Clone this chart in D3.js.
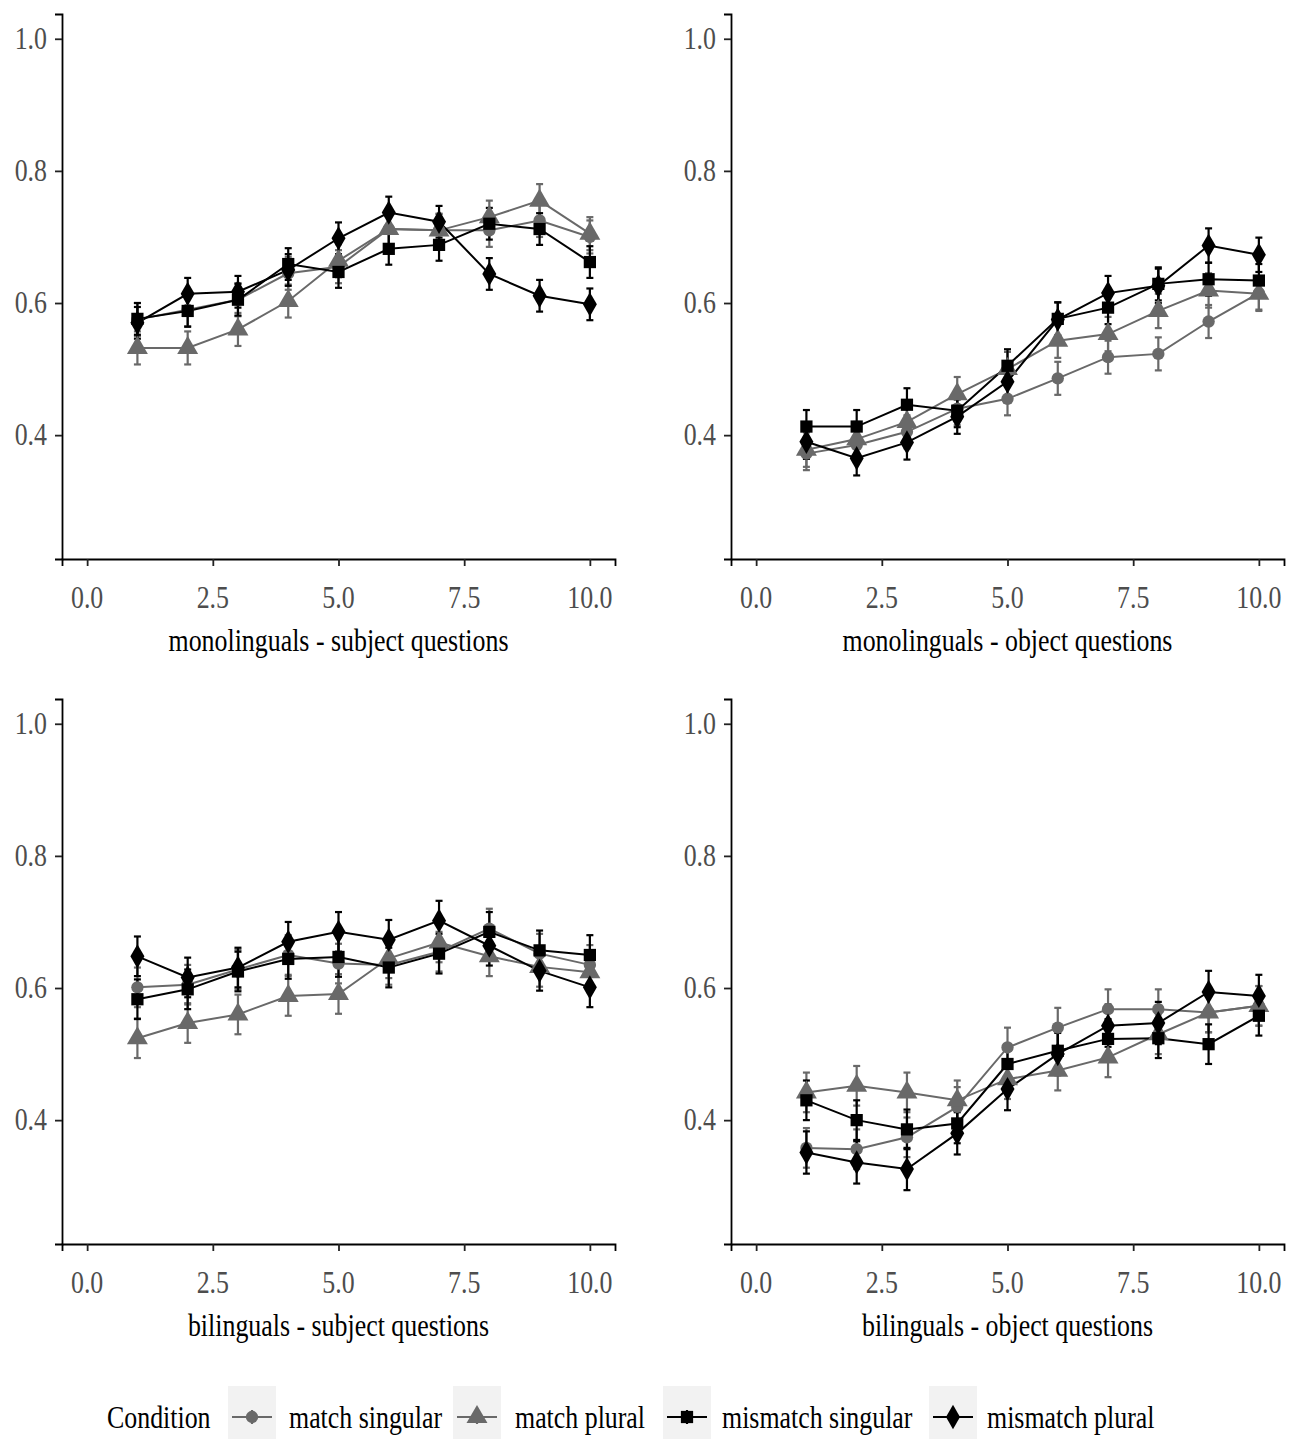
<!DOCTYPE html>
<html><head><meta charset="utf-8">
<script src="https://cdn.jsdelivr.net/npm/d3@7"></script>
<style>body{margin:0;background:#fff}</style></head>
<body><svg id="c" width="1302" height="1439"></svg>
<script>
const blocks = [1,2,3,4,5,6,7,8,9,10];
const xTicks = [0, 2.5, 5, 7.5, 10];
const yTicks = [0.4, 0.6, 0.8, 1.0];
const conditions = ["match singular","match plural","mismatch singular","mismatch plural"];
const panelTitles = ["monolinguals - subject questions","monolinguals - object questions","bilinguals - subject questions","bilinguals - object questions"];

// monolinguals - subject questions
const monoSubjMatchSg   = [0.575,0.590,0.605,0.645,0.655,0.712,0.710,0.710,0.725,0.700];
const monoSubjMatchPl   = [0.532,0.532,0.560,0.603,0.664,0.712,0.710,0.730,0.755,0.705];
const monoSubjMismSg    = [0.576,0.588,0.605,0.659,0.647,0.682,0.688,0.720,0.712,0.662];
const monoSubjMismPl    = [0.570,0.614,0.617,0.650,0.698,0.737,0.723,0.644,0.611,0.598];
// monolinguals - object questions
const monoObjMatchSg    = [0.372,0.385,0.405,0.440,0.455,0.486,0.518,0.523,0.572,0.615];
const monoObjMatchPl    = [0.378,0.394,0.420,0.462,0.500,0.543,0.553,0.588,0.619,0.614];
const monoObjMismSg     = [0.413,0.413,0.446,0.437,0.505,0.576,0.593,0.629,0.636,0.634];
const monoObjMismPl     = [0.390,0.365,0.389,0.428,0.481,0.575,0.615,0.626,0.687,0.673];
// bilinguals - subject questions
const biSubjMatchSg     = [0.601,0.605,0.628,0.650,0.637,0.635,0.655,0.690,0.652,0.635];
const biSubjMatchPl     = [0.524,0.547,0.560,0.588,0.591,0.645,0.669,0.648,0.632,0.624];
const biSubjMismSg      = [0.583,0.598,0.625,0.644,0.647,0.631,0.652,0.685,0.657,0.650];
const biSubjMismPl      = [0.648,0.616,0.631,0.670,0.685,0.673,0.702,0.664,0.626,0.601];
// bilinguals - object questions
const biObjMatchSg      = [0.358,0.356,0.374,0.420,0.510,0.540,0.568,0.568,0.563,0.573];
const biObjMatchPl      = [0.442,0.452,0.442,0.430,0.462,0.475,0.495,0.530,0.563,0.573];
const biObjMismSg       = [0.430,0.400,0.386,0.395,0.485,0.505,0.523,0.524,0.515,0.558];
const biObjMismPl       = [0.351,0.336,0.326,0.380,0.447,0.500,0.543,0.547,0.594,0.588];

// standard errors (per panel, per condition)
const seMonoSubj = [0.025,0.025,0.024,0.024];
const seMonoObj  = [0.025,0.026,0.025,0.026];
const seBiSubj   = [0.030,0.030,0.030,0.030];
const seBiObj    = [0.030,0.030,0.030,0.032];

const panels = [
  {title: panelTitles[0], series: [monoSubjMatchSg, monoSubjMatchPl, monoSubjMismSg, monoSubjMismPl], se: seMonoSubj, x0: 62, x1: 615, y0: 14, y1: 559},
  {title: panelTitles[1], series: [monoObjMatchSg, monoObjMatchPl, monoObjMismSg, monoObjMismPl], se: seMonoObj, x0: 731, x1: 1284, y0: 14, y1: 559},
  {title: panelTitles[2], series: [biSubjMatchSg, biSubjMatchPl, biSubjMismSg, biSubjMismPl], se: seBiSubj, x0: 62, x1: 615, y0: 699, y1: 1244},
  {title: panelTitles[3], series: [biObjMatchSg, biObjMatchPl, biObjMismSg, biObjMismPl], se: seBiObj, x0: 731, x1: 1284, y0: 699, y1: 1244}
];

const colors = ["#696969","#696969","#000000","#000000"];
const shapes = [d3.symbolCircle, d3.symbolTriangle, d3.symbolSquare, d3.symbolDiamond];
const sizes = [120, 190, 150, 170];
const FONT = "'Liberation Serif','Times New Roman',serif";
const SX = 0.835;

const svg = d3.select("#c");
function txt(parent, x, y, s, opts) {
  opts = opts || {};
  const g = parent.append("g").attr("transform", `translate(${x},${y}) scale(${SX},1)`);
  g.append("text").text(s)
    .attr("font-family", FONT)
    .attr("font-size", opts.size || 31)
    .attr("fill", opts.fill || "#000")
    .attr("text-anchor", opts.anchor || "start")
    .attr("dominant-baseline", "central");
  return g;
}

panels.forEach(p => {
  const x = d3.scaleLinear().domain([-0.5, 10.5]).range([p.x0, p.x1]);
  const y = d3.scaleLinear().domain([0.2125, 1.0375]).range([p.y1, p.y0]);
  const g = svg.append("g");

  // axes
  const xa = g.append("g").attr("transform", `translate(0,${p.y1})`)
    .call(d3.axisBottom(x).tickValues(xTicks).tickSize(7).tickFormat(""));
  const ya = g.append("g").attr("transform", `translate(${p.x0},0)`)
    .call(d3.axisLeft(y).tickValues(yTicks).tickSize(7).tickFormat(""));
  [xa, ya].forEach(a => {
    a.select(".domain").attr("stroke", "#000").attr("stroke-width", 1.8);
    a.selectAll(".tick line").attr("stroke", "#222").attr("stroke-width", 1.8);
  });
  xTicks.forEach(t => txt(g, x(t), p.y1 + 39, d3.format(".1f")(t), {anchor: "middle", fill: "#4d4d4d"}));
  yTicks.forEach(t => txt(g, p.x0 - 15, y(t), d3.format(".1f")(t), {anchor: "end", fill: "#4d4d4d"}));
  txt(g, (p.x0 + p.x1) / 2, p.y1 + 82, p.title, {anchor: "middle"});

  // error bars
  p.series.forEach((vals, i) => {
    const eb = g.append("g");
    vals.forEach((v, j) => {
      const cx = x(blocks[j]);
      const lo = y(v - p.se[i]), hi = y(v + p.se[i]);
      eb.append("line").attr("x1", cx).attr("x2", cx).attr("y1", lo).attr("y2", hi)
        .attr("stroke", colors[i]).attr("stroke-width", 2.2);
      [lo, hi].forEach(yy => eb.append("line").attr("x1", cx - 3.5).attr("x2", cx + 3.5).attr("y1", yy).attr("y2", yy)
        .attr("stroke", colors[i]).attr("stroke-width", 2.2));
    });
  });
  // lines
  const line = d3.line().x((d, j) => x(blocks[j])).y(d => y(d));
  p.series.forEach((vals, i) => {
    g.append("path").datum(vals).attr("d", line).attr("fill", "none")
      .attr("stroke", colors[i]).attr("stroke-width", 2);
  });
  // points
  p.series.forEach((vals, i) => {
    g.selectAll(null).data(vals).enter().append("path")
      .attr("transform", (d, j) => `translate(${x(blocks[j])},${y(d)})`)
      .attr("d", d3.symbol().type(shapes[i]).size(sizes[i]))
      .attr("fill", colors[i]);
  });
});

// legend
const lg = svg.append("g");
txt(lg, 107, 1418, "Condition");
const keyX = [228, 453, 663, 929];
const labX = [289, 515, 722, 987];
conditions.forEach((c, i) => {
  lg.append("rect").attr("x", keyX[i]).attr("y", 1386).attr("width", 48).attr("height", 56).attr("fill", "#f2f2f2");
  const cx = keyX[i] + 24;
  lg.append("line").attr("x1", keyX[i] + 4).attr("x2", keyX[i] + 44).attr("y1", 1417).attr("y2", 1417)
    .attr("stroke", colors[i]).attr("stroke-width", 2);
  lg.append("line").attr("x1", cx).attr("x2", cx).attr("y1", 1410).attr("y2", 1424)
    .attr("stroke", colors[i]).attr("stroke-width", 2.2);
  lg.append("path").attr("transform", `translate(${cx},1417)`)
    .attr("d", d3.symbol().type(shapes[i]).size(sizes[i])).attr("fill", colors[i]);
  txt(lg, labX[i], 1418, c);
});
</script></body></html>
